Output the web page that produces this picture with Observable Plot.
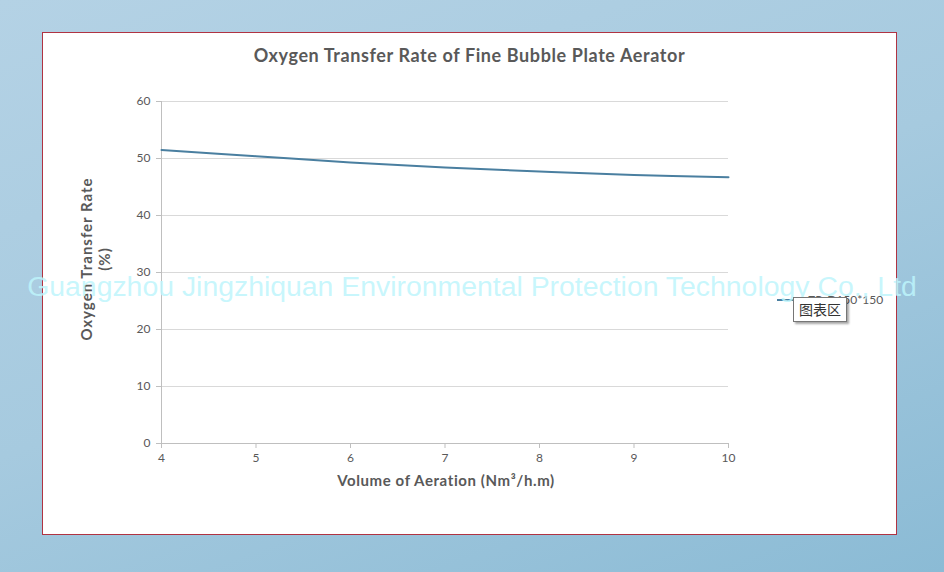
<!DOCTYPE html>
<html>
<head>
<meta charset="utf-8">
<script src="https://cdn.jsdelivr.net/npm/d3@7"></script>
<script src="https://cdn.jsdelivr.net/npm/@observablehq/plot@0.6"></script>
<style>
  html, body { margin: 0; padding: 0; }
  body {
    width: 944px; height: 572px; overflow: hidden; position: relative;
    background: linear-gradient(160deg, #b4d2e5 0%, #a6cadf 50%, #8bbbd5 100%);
    font-family: Lato, "Open Sans", sans-serif;
  }
  #panel {
    position: absolute; left: 42px; top: 32px; width: 853px; height: 501px;
    background: #ffffff; border: 1px solid #b03342;
  }
  #chart { position: absolute; left: 0; top: 0; }
  #title {
    position: absolute; left: 0; width: 853px; top: 11px; text-align: center;
    font-size: 18px; font-weight: bold; color: #595959; letter-spacing: 0.6px;
  }
  #ylabel {
    position: absolute; left: 43px; top: 226px; width: 0; height: 0;
  }
  #ylabel div {
    position: absolute; transform: translate(-50%, -50%) rotate(-90deg);
    white-space: nowrap; font-size: 15px; font-weight: bold; color: #595959; text-align: center;
    letter-spacing: 1px;
  }
  #xlabel {
    position: absolute; left: 0; width: 806px; top: 438px; text-align: center;
    font-size: 15px; font-weight: bold; color: #595959; letter-spacing: 0.6px;
  }
  #legend {
    position: absolute; left: 734px; top: 259px; font-size: 12px; color: #595959;
    display: flex; align-items: center; white-space: nowrap;
  }
  #legend .swatch { width: 18px; height: 2px; background: #4a7fa0; margin-right: 13px; }
  #tip {
    position: absolute; padding: 2px 5px 3px 5px;
    background: #fff; border: 1px solid #767676; font-size: 14px; color: #333;
    font-family: "Noto Sans CJK SC", sans-serif; line-height: 18px;
    box-shadow: 2px 2px 2px rgba(0,0,0,0.35);
  }
  #watermark {
    position: absolute; left: 0; width: 944px; top: 270px; text-align: center;
    font-family: "Liberation Sans", Arial, sans-serif; font-size: 28.4px;
    color: rgba(190, 245, 252, 0.85); white-space: nowrap; pointer-events: none;
  }
</style>
</head>
<body>
<div id="panel">
  <div id="chart"></div>
  <div id="title">Oxygen Transfer Rate of Fine Bubble Plate Aerator</div>
  <div id="ylabel">
    <div style="left:0;top:0;">Oxygen Transfer Rate</div>
    <div style="left:18px;top:0;">(%)</div>
  </div>
  <div id="xlabel">Volume of Aeration (Nm³/h.m)</div>
  <div id="legend"><span class="swatch"></span><span>ZR-D150*150</span></div>
</div>
<div id="watermark">Guangzhou Jingzhiquan Environmental Protection Technology Co., Ltd</div>
<div id="tip" style="left:793px;top:297px;">图表区</div>
<script>
// Data
const aeration = [4, 5, 6, 7, 8, 9, 10];
const transferRate = [51.5, 50.4, 49.3, 48.4, 47.7, 47.1, 46.7];
const xTicks = [4, 5, 6, 7, 8, 9, 10];
const yTicks = [0, 10, 20, 30, 40, 50, 60];

const data = aeration.map((x, i) => ({x, y: transferRate[i]}));

const chart = Plot.plot({
  width: 853,
  height: 501,
  marginLeft: 118,
  marginRight: 168,
  marginTop: 68,
  marginBottom: 91,
  style: {fontFamily: "Lato, 'Open Sans', sans-serif", fontSize: "12px", color: "#595959", background: "transparent"},
  x: {domain: [4, 10], ticks: xTicks, label: null, tickFormat: "d"},
  y: {domain: [0, 60], ticks: yTicks, label: null, tickFormat: "d"},
  marks: [
    Plot.gridY(yTicks, {stroke: "#d9d9d9", strokeOpacity: 1}),
    Plot.ruleX([4], {stroke: "#bfbfbf"}),
    Plot.ruleY([0], {stroke: "#bfbfbf"}),
    Plot.axisY({ticks: yTicks, tickFormat: "d", stroke: "#bfbfbf", tickSize: 5, tickPadding: 6, fill: "#595959", label: null}),
    Plot.axisX({ticks: xTicks, tickFormat: "d", stroke: "#bfbfbf", tickSize: 5, tickPadding: 5, fill: "#595959", label: null}),
    Plot.line(data, {x: "x", y: "y", stroke: "#4a7fa0", strokeWidth: 2, curve: "catmull-rom"})
  ]
});
document.getElementById("chart").appendChild(chart);
</script>
</body>
</html>
